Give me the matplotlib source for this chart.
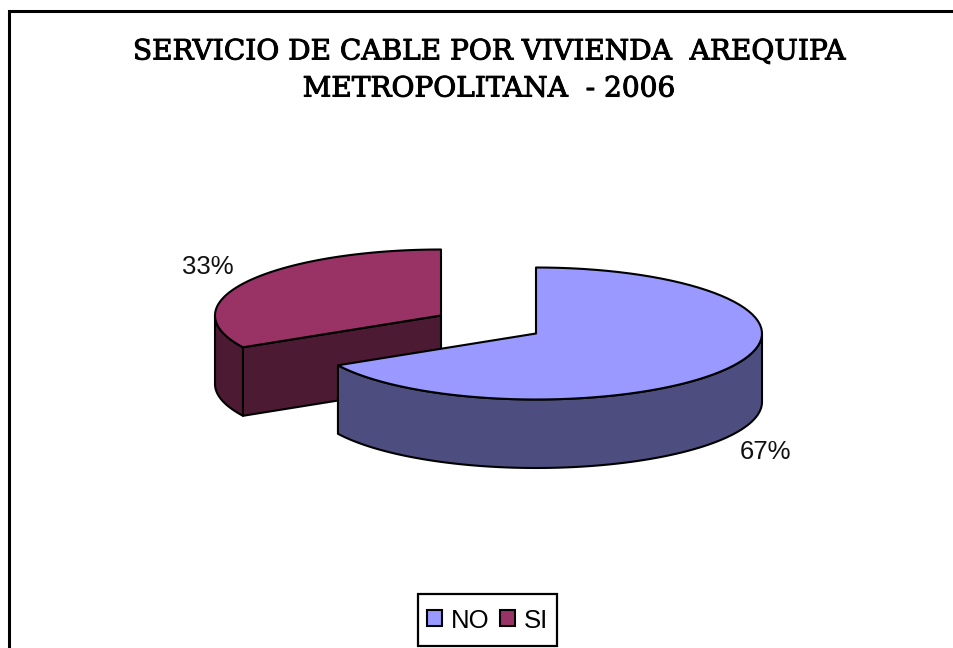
import numpy as np
import matplotlib
matplotlib.use('Agg')
import matplotlib.pyplot as plt
import matplotlib.patheffects as pe
from matplotlib.patches import Polygon, Patch, Rectangle

categorias = ['NO', 'SI']
valores = [67, 33]
etiquetas = ['67%', '33%']
colores_top = ['#9999FF', '#993366']
colores_lado = ['#4D4D80', '#4D1A33']
titulo = 'SERVICIO DE CABLE POR VIVIENDA  AREQUIPA\nMETROPOLITANA  - 2006'

fig = plt.figure(figsize=(9.54, 6.48), dpi=100)
ax = fig.add_axes([0, 0, 1, 1])
ax.set_xlim(0, 954)
ax.set_ylim(648, 0)
ax.axis('off')

rx, ry, prof = 226, 66, 68.5
centros = [(536, 333.5), (441, 315.5)]
lw = 1.5


def borde(cx, cy, a1, a2, dy=0):
    # a en grados, horario desde las 12
    t = np.radians(np.linspace(a1, a2, 80))
    return np.column_stack([cx + rx * np.sin(t), cy - ry * np.cos(t) + dy])


def poligono(pts, color, z):
    ax.add_patch(Polygon(pts, closed=True, facecolor=color, edgecolor='black',
                         linewidth=lw, joinstyle='round', zorder=z))


total = sum(valores)
corte = 360 * valores[0] / total

# SI: la porcion de atras
cx, cy = centros[1]
p = borde(cx, cy, corte, corte)[0]
poligono([(cx, cy), p, (p[0], p[1] + prof), (cx, cy + prof)], colores_lado[1], 2)
arco = borde(cx, cy, corte, 270)
poligono(np.vstack([arco, borde(cx, cy, 270, corte, prof)]), colores_lado[1], 2)
poligono(np.vstack([[(cx, cy)], borde(cx, cy, corte, 360)]), colores_top[1], 3)

# NO: la porcion de adelante
cx, cy = centros[0]
arco = borde(cx, cy, 90, corte)
poligono(np.vstack([arco, borde(cx, cy, corte, 90, prof)]), colores_lado[0], 4)
poligono(np.vstack([[(cx, cy)], borde(cx, cy, 0, corte)]), colores_top[0], 5)

# marco del grafico, cortado por abajo y a la derecha
ax.plot([9.5, 9.5, 960], [660, 10.5, 10.5], color='black', lw=2.2, zorder=6, clip_on=False,
        solid_joinstyle='miter')

ax.text(489, 70.5, titulo, ha='center', va='center', fontsize=20.15, family='DejaVu Serif',
        linespacing=1.48, color='black',
        path_effects=[pe.withStroke(linewidth=0.7, foreground='black')])
ax.text(766, 452, etiquetas[0], ha='center', va='center', fontsize=18.5,
        family='Liberation Sans', color='#111111')
ax.text(208, 267, etiquetas[1], ha='center', va='center', fontsize=18.5,
        family='Liberation Sans', color='#111111')

# la caja de la leyenda va aparte, es mas alta que lo que da el pad
ax.add_patch(Rectangle((418, 594), 139, 52, facecolor='white', edgecolor='black',
                       linewidth=1.6, zorder=7))
handles = [Patch(facecolor=c, edgecolor='black', linewidth=1.5) for c in colores_top]
ley = ax.legend(handles, categorias, loc='center', bbox_to_anchor=(487.5, 620.5),
                bbox_transform=ax.transData, ncol=2, frameon=False,
                handlelength=0.58, handleheight=0.58,
                handletextpad=0.34, columnspacing=0.42, borderpad=0, borderaxespad=0,
                prop={'family': 'Liberation Sans', 'size': 18.5})
ley.set_zorder(8)

fig.savefig('out.png', dpi=100)
